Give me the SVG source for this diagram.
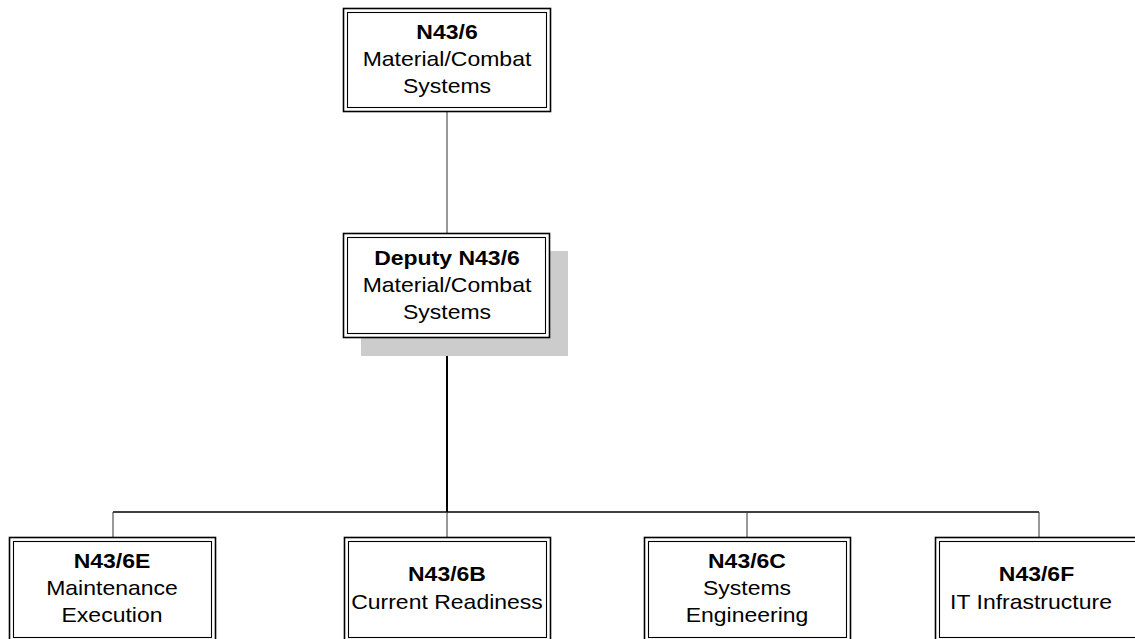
<svg xmlns="http://www.w3.org/2000/svg" width="1135" height="639" viewBox="0 0 1135 639">
<style>
.outer{fill:#fff;stroke:#000;stroke-width:1.6}
.inner{fill:none;stroke:#000;stroke-width:1.1}
.t{font-family:"Liberation Sans",Arial,sans-serif;font-size:21px;fill:#000;text-anchor:middle}
.b{font-weight:bold}
.thin{stroke:#333;stroke-width:1;fill:none}
.thick{stroke:#000;stroke-width:2;fill:none}
</style>
<rect width="1135" height="639" fill="#fff"/>
<g id="connectors">
<line class="thin" x1="447" y1="112" x2="447" y2="233"/>
<line class="thick" x1="447" y1="338" x2="447" y2="512"/>
<line class="thin" x1="113" y1="512" x2="1039" y2="512" style="stroke:#000;stroke-width:1.4"/>
<line class="thin" x1="113" y1="512" x2="113" y2="537"/>
<line class="thin" x1="447" y1="512" x2="447" y2="537"/>
<line class="thin" x1="747" y1="512" x2="747" y2="537"/>
<line class="thin" x1="1039" y1="512" x2="1039" y2="537"/>
</g>
<g id="n43-6">
<rect class="outer" x="343.5" y="8.5" width="207" height="103"/>
<rect class="inner" x="347.5" y="12.5" width="199" height="95"/>
<g transform="translate(447,0) scale(1.095,1)">
<text class="t b" x="0" y="39">N43/6</text>
<text class="t" x="0" y="66">Material/Combat</text>
<text class="t" x="0" y="93">Systems</text>
</g>
</g>
<g id="deputy">
<rect x="361" y="251" width="207" height="105" fill="#cccccc"/>
<rect class="outer" x="343.5" y="233.5" width="206" height="104"/>
<rect class="inner" x="347.5" y="237.5" width="198" height="96"/>
<g transform="translate(447,0) scale(1.095,1)">
<text class="t b" x="0" y="265">Deputy N43/6</text>
<text class="t" x="0" y="292">Material/Combat</text>
<text class="t" x="0" y="319">Systems</text>
</g>
</g>
<g id="n43-6e">
<rect class="outer" x="9.5" y="537.5" width="206" height="104"/>
<rect class="inner" x="13.5" y="541.5" width="198" height="96"/>
<g transform="translate(112,0) scale(1.095,1)">
<text class="t b" x="0" y="568">N43/6E</text>
<text class="t" x="0" y="595">Maintenance</text>
<text class="t" x="0" y="622">Execution</text>
</g>
</g>
<g id="n43-6b">
<rect class="outer" x="344.5" y="537.5" width="206" height="104"/>
<rect class="inner" x="348.5" y="541.5" width="198" height="96"/>
<g transform="translate(447,0) scale(1.095,1)">
<text class="t b" x="0" y="581">N43/6B</text>
<text class="t" x="0" y="609">Current Readiness</text>
</g>
</g>
<g id="n43-6c">
<rect class="outer" x="644.5" y="537.5" width="206" height="104"/>
<rect class="inner" x="648.5" y="541.5" width="198" height="96"/>
<g transform="translate(747,0) scale(1.095,1)">
<text class="t b" x="0" y="568">N43/6C</text>
<text class="t" x="0" y="595">Systems</text>
<text class="t" x="0" y="622">Engineering</text>
</g>
</g>
<g id="n43-6f">
<rect class="outer" x="935.5" y="537.5" width="206" height="104"/>
<rect class="inner" x="939.5" y="541.5" width="198" height="96"/>
<g transform="translate(1031,0) scale(1.095,1)">
<text class="t b" x="5" y="581">N43/6F</text>
<text class="t" x="0" y="609">IT Infrastructure</text>
</g>
</g>
</svg>
